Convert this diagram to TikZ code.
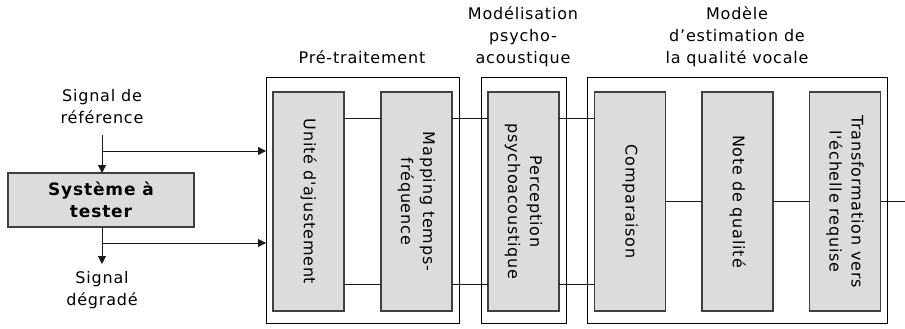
\documentclass[tikz,border=0pt]{standalone}
\usepackage{fontspec}
\setmainfont{DejaVu Sans}[LetterSpace=5, Ligatures=TeXOff]
\usetikzlibrary{arrows.meta}
\definecolor{boxfill}{HTML}{DCDCDC}
\begin{document}
\begin{tikzpicture}[x=1pt,y=-1pt,
  font=\fontsize{16}{22}\selectfont,
  every node/.style={inner sep=0pt, outer sep=0pt},
  outerbox/.style={draw=black, line width=1pt, minimum height=245pt},
  stagebox/.style={draw=black!75, fill=boxfill, line width=1.2pt, minimum width=71pt, minimum height=219pt},
  vlabel/.style={rotate=-90, align=center},
  title/.style={align=center},
  conn/.style={draw=black!90, line width=1pt},
  arr/.style={conn, -{Triangle[length=8pt,width=8pt]}}]
\useasboundingbox (0,0) rectangle (905,329);
% outer boxes
\node[outerbox, minimum width=193pt] (pre) at (362.5,200.5) {};
\node[outerbox, minimum width=85pt] (psy) at (523.5,200.5) {};
\node[outerbox, minimum width=300pt] (mod) at (737,200.5) {};
% titles
\node[title] (tpre) at (362,57) {Pré-traitement};
\node[title] (tpsy) at (523,37) {Modélisation\\psycho-\\acoustique};
\node[title] (tmod) at (737,37) {Modèle\\d’estimation de\\la qualité vocale};
% stage boxes
\node[stagebox] (u) at (308.5,201.5) {};
\node[stagebox] (m) at (416.5,201.5) {};
\node[stagebox] (p) at (523.5,201.5) {};
\node[stagebox] (c) at (630,201.5) {};
\node[stagebox] (n) at (737.5,201.5) {};
\node[stagebox] (t) at (845,201.5) {};
\node[vlabel] (ul) at (u) {Unité d'ajustement};
\node[vlabel] (ml) at (m) {Mapping temps-\\fréquence};
\node[vlabel] (pl) at (p) {Perception\\psychoacoustique};
\node[vlabel] (cl) at (c) {Comparaison};
\node[vlabel] (nl) at (n) {Note de qualité};
\node[vlabel] (tl) at (t) {Transformation vers\\l'échelle requise};
% system under test
\node[draw=black!75, fill=boxfill, line width=1.2pt, minimum width=186pt, minimum height=54pt, align=center, font=\fontsize{17}{22}\selectfont\bfseries] (sys) at (101,200) {Système à\\tester};
\node[title] (ref) at (102,107) {Signal de\\référence};
\node[title] (deg) at (102,290) {Signal\\dégradé};
\coordinate (rb) at (102,151);
\coordinate (db) at (102,243);
\coordinate (outend) at (905,201);
% connectors
\draw[arr] (ref.south |- 0,135) -- (sys.north -| rb);
\draw[arr] (rb) -- (rb -| pre.west);
\draw[arr] (sys.south -| db) -- (db |- 0,264);
\draw[arr] (db) -- (db -| pre.west);
\draw[conn] (u.east |- 0,118) -- (m.west |- 0,118);
\draw[conn] (u.east |- 0,284) -- (m.west |- 0,284);
\draw[conn] (m.east |- 0,118) -- (p.west |- 0,118);
\draw[conn] (m.east |- 0,284) -- (p.west |- 0,284);
\draw[conn] (p.east |- 0,118) -- (c.west |- 0,118);
\draw[conn] (p.east |- 0,284) -- (c.west |- 0,284);
\draw[conn] (c.east |- 0,201) -- (n.west |- 0,201);
\draw[conn] (n.east |- 0,201) -- (t.west |- 0,201);
\draw[conn] (t.east |- 0,201) -- (outend);
\end{tikzpicture}
\end{document}
